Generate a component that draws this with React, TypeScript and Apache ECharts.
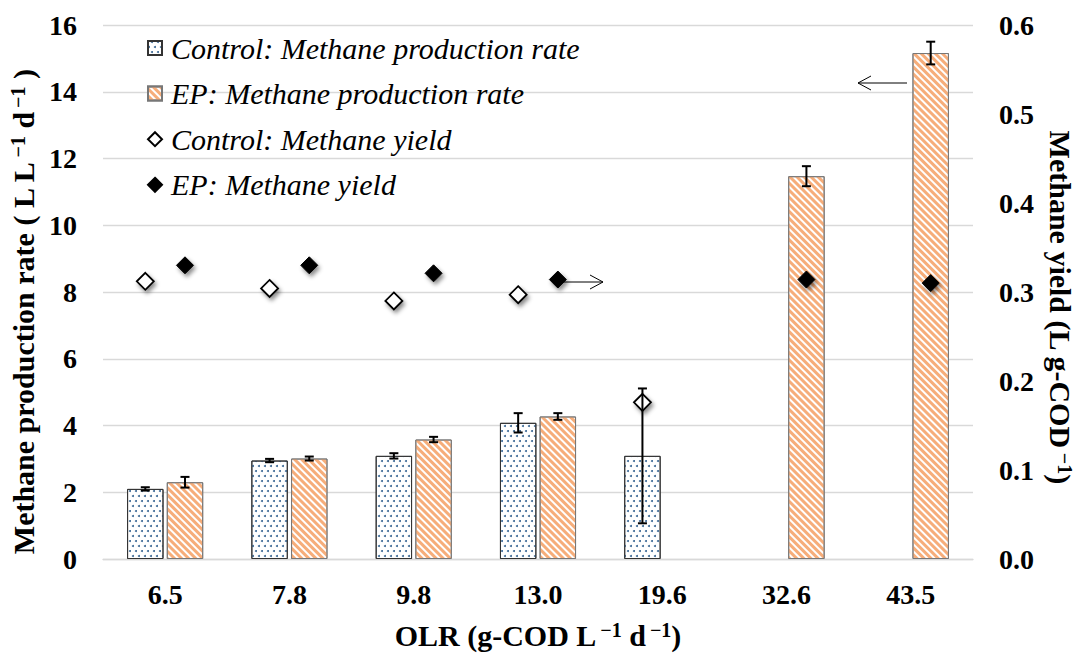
import React, { useEffect, useRef } from "react";
import * as echarts from "echarts";

const categories = ["6.5", "7.8", "9.8", "13.0", "19.6", "32.6", "43.5"];
const controlRate = [2.1, 2.95, 3.09, 4.08, 3.09, null, null];
const controlRateErr = [0.05, 0.05, 0.08, 0.29, 2.02, null, null];
const epRate = [2.3, 3.01, 3.58, 4.27, null, 11.47, 15.16];
const epRateErr = [0.16, 0.06, 0.08, 0.1, null, 0.3, 0.34];
const controlYield = [0.312, 0.304, 0.29, 0.297, 0.176, null, null];
const epYield = [0.33, 0.33, 0.321, 0.314, null, 0.314, 0.31];

const NAMES = [
  "Control: Methane production rate",
  "EP: Methane production rate",
  "Control: Methane yield",
  "EP: Methane yield",
];

const FONT = '"Times New Roman", "Liberation Serif", serif';
const GRID = { left: 103, right: 111, top: 25, bottom: 94 };
const W = 1084;
const BAR_W = 0.293;
const BAR_GAP = 0.09;
const OFF_FRAC = (BAR_W + BAR_W * BAR_GAP) / 2;
const BAND = (W - GRID.left - GRID.right) / categories.length;
const OFF_PX = BAND * OFF_FRAC;

const SUP = { fontFamily: FONT, fontWeight: "bold", fontSize: 20, color: "#000", verticalAlign: "top", padding: [0, 0, 0, 4] };

function errSeries(name: string, means: (number | null)[], errs: (number | null)[], side: number) {
  const data = means
    .map((m, i) => (m == null ? null : [i, m, errs[i]]))
    .filter((d) => d != null);
  return {
    type: "custom",
    name,
    yAxisIndex: 0,
    z: 6,
    data,
    encode: { x: 0, y: 1 },
    renderItem: (params: any, api: any) => {
      const i = api.value(0);
      const m = api.value(1);
      const e = api.value(2);
      const band = api.size([1, 0])[0];
      const off = side * band * OFF_FRAC;
      const top = api.coord([i, m + e]);
      const bot = api.coord([i, m - e]);
      const x = top[0] + off;
      const cap = 4.5;
      const style = { stroke: "#000", lineWidth: 2 };
      return {
        type: "group",
        children: [
          { type: "line", shape: { x1: x, y1: top[1], x2: x, y2: bot[1] }, style },
          { type: "line", shape: { x1: x - cap, y1: top[1], x2: x + cap, y2: top[1] }, style },
          { type: "line", shape: { x1: x - cap, y1: bot[1], x2: x + cap, y2: bot[1] }, style },
        ],
      };
    },
  };
}

export default function App() {
  const ref = useRef<HTMLDivElement>(null);
  useEffect(() => {
    if (!ref.current) return;
    const chart = echarts.init(ref.current, null, { renderer: "svg" });
    const shadow = {
      shadowBlur: 4,
      shadowColor: "rgba(0,0,0,0.45)",
      shadowOffsetX: 2,
      shadowOffsetY: 3,
    };
    const nameStyle = {
      fontFamily: FONT,
      fontWeight: "bold",
      fontSize: 30,
      color: "#000",
      rich: { sup: SUP },
    };
    const tickStyle = {
      fontFamily: FONT,
      fontWeight: "bold",
      fontSize: 28,
      color: "#000",
    };
    chart.setOption({
      animation: false,
      backgroundColor: "#fff",
      grid: { ...GRID },
      legend: {
        orient: "vertical",
        left: 147,
        top: 33,
        padding: 0,
        itemWidth: 14,
        itemHeight: 14,
        itemGap: 15.6,
        selectedMode: false,
        data: [
          { name: NAMES[0], icon: "rect" },
          { name: NAMES[1], icon: "rect" },
          { name: NAMES[2], icon: "diamond" },
          { name: NAMES[3], icon: "diamond" },
        ],
        textStyle: {
          fontFamily: FONT,
          fontStyle: "italic",
          fontSize: 30,
          color: "#000",
          lineHeight: 30,
          padding: [0, 0, 0, 4],
        },
      },
      xAxis: {
        type: "category",
        data: categories,
        axisTick: { show: false },
        axisLine: { show: true, lineStyle: { color: "#d9d9d9", width: 1.3 } },
        axisLabel: { margin: 21, ...tickStyle },
        name: "OLR (g-COD L{sup|\u22121} d{sup|\u22121})",
        nameLocation: "middle",
        nameGap: 61,
        nameTextStyle: nameStyle,
      },
      yAxis: [
        {
          type: "value",
          min: 0,
          max: 16,
          interval: 2,
          axisLine: { show: false },
          axisTick: { show: false },
          splitLine: { lineStyle: { color: "#d9d9d9", width: 1.3 } },
          axisLabel: { margin: 26, ...tickStyle },
          name: "Methane production rate ( L L{sup|\u22121} d{sup|\u22121} )",
          nameLocation: "middle",
          nameGap: 57,
          nameRotate: 90,
          nameTextStyle: { ...nameStyle, padding: [0, 40, 0, 0] },
        },
        {
          type: "value",
          position: "right",
          min: 0,
          max: 0.6,
          interval: 0.1,
          axisLine: { show: false },
          axisTick: { show: false },
          splitLine: { show: false },
          axisLabel: {
            margin: 26,
            ...tickStyle,
            formatter: (v: number) => v.toFixed(1),
          },
          name: "Methane yield (L g-COD{sup|\u22121})",
          nameLocation: "middle",
          nameGap: 72,
          nameRotate: -90,
          nameTextStyle: { ...nameStyle, padding: [0, 0, 0, 30] },
        },
      ],
      series: [
        {
          type: "bar",
          name: NAMES[0],
          data: controlRate,
          barWidth: BAR_W * 100 + "%",
          barGap: BAR_GAP * 100 + "%",
          itemStyle: {
            color: "#ffffff",
            borderColor: "#333",
            borderWidth: 1,
            decal: {
              symbol: "circle",
              symbolSize: 1,
              color: "#3a6794",
              dashArrayX: [
                [2, 4],
                [0, 3, 2, 1],
              ],
              dashArrayY: [2, 3],
            },
          },
        },
        {
          type: "bar",
          name: NAMES[1],
          data: epRate,
          barWidth: BAR_W * 100 + "%",
          barGap: BAR_GAP * 100 + "%",
          itemStyle: {
            color: "#ffffff",
            borderColor: "#777",
            borderWidth: 1,
            decal: {
              symbol: "rect",
              symbolSize: 1,
              color: "#f6ad7a",
              dashArrayX: [1, 0],
              dashArrayY: [3, 2],
              rotation: Math.PI / 4,
            },
          },
        },
        errSeries("ctrlErr", controlRate, controlRateErr, -1),
        errSeries("epErr", epRate, epRateErr, 1),
        {
          type: "scatter",
          name: NAMES[2],
          yAxisIndex: 1,
          data: controlYield,
          symbol: "diamond",
          symbolSize: 17,
          symbolOffset: [-OFF_PX, 0],
          z: 5,
          itemStyle: { color: "#ffffff", borderColor: "#000", borderWidth: 1.8, opacity: 1, ...shadow },
        },
        {
          type: "scatter",
          name: NAMES[3],
          yAxisIndex: 1,
          data: epYield,
          symbol: "diamond",
          symbolSize: 17,
          symbolOffset: [OFF_PX, 0],
          z: 5,
          itemStyle: { color: "#000000", borderColor: "#000", borderWidth: 1, opacity: 1, ...shadow },
        },
      ],
      graphic: [
        { type: "line", shape: { x1: 557, y1: 282, x2: 603, y2: 282 }, style: { stroke: "#000", lineWidth: 1 } },
        { type: "polyline", shape: { points: [[590, 275], [603, 282], [590, 289]] }, style: { stroke: "#000", lineWidth: 1, fill: null } },
        { type: "line", shape: { x1: 858, y1: 83, x2: 907, y2: 83 }, style: { stroke: "#000", lineWidth: 1 } },
        { type: "polyline", shape: { points: [[871, 76], [858, 83], [871, 90]] }, style: { stroke: "#000", lineWidth: 1, fill: null } },
      ],
    });
    return () => chart.dispose();
  }, []);
  return <div ref={ref} style={{ position: "fixed", left: 0, top: 0, width: 1084, height: 655 }} />;
}
